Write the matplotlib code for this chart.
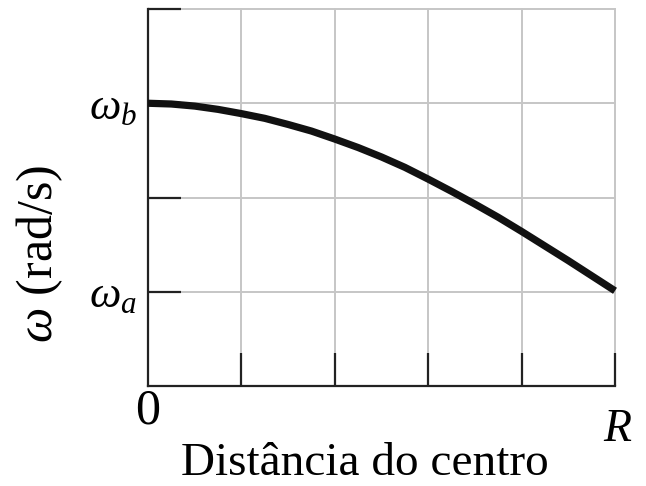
import matplotlib
matplotlib.use("Agg")
import matplotlib.pyplot as plt

plt.rcParams["font.family"] = ["Liberation Serif", "DejaVu Serif"]
plt.rcParams["mathtext.fontset"] = "custom"
plt.rcParams["mathtext.rm"] = "Liberation Serif"
plt.rcParams["mathtext.it"] = "Liberation Serif:italic"

# distance from centre in units of R/5, omega in grid units (omega_a = 1, omega_b = 3)
dist = [0, 0.25, 0.5, 0.75, 1, 1.25, 1.5, 1.75, 2, 2.25, 2.5,
        2.75, 3, 3.25, 3.5, 3.75, 4, 4.25, 4.5, 4.75, 5]
omega = [3.0, 2.992, 2.97, 2.935, 2.89, 2.84, 2.775, 2.705, 2.62, 2.53, 2.43,
         2.32, 2.195, 2.065, 1.93, 1.79, 1.64, 1.485, 1.33, 1.17, 1.01]

y_ticks = [1, 2, 3, 4]
y_labels = [r"$\omega_a$", "", r"$\omega_b$", ""]
x_ticks = [1, 2, 3, 4, 5]

fig = plt.figure(figsize=(6.46, 4.86), dpi=100)
ax = fig.add_axes([148 / 646, 1 - 386 / 486, 467 / 646, 377 / 486])

for v in [1, 2, 3, 4]:
    ax.axhline(v, color="#c6c6c6", lw=1.4, zorder=1, clip_on=False)
for v in [1, 2, 3, 4, 5]:
    ax.axvline(v, color="#c6c6c6", lw=1.4, zorder=1, clip_on=False)

ax.plot(dist, omega, color="#111111", lw=5.2, solid_capstyle="butt",
        solid_joinstyle="round", zorder=3, clip_on=False)

ax.set_xlim(0, 5)
ax.set_ylim(0, 4)
for s in ["top", "right"]:
    ax.spines[s].set_visible(False)
for s in ["left", "bottom"]:
    ax.spines[s].set_linewidth(1.6)
    ax.spines[s].set_color("#222222")

ax.set_yticks(y_ticks, labels=y_labels)
ax.set_xticks(x_ticks, labels=[""] * len(x_ticks))
ax.tick_params(axis="both", direction="in", length=24, width=1.6, color="#222222")
ax.tick_params(axis="y", pad=8, labelsize=32)

ax.text(0, -0.27, "0", ha="center", va="center", fontsize=36)
ax.text(5.02, -0.46, "R", ha="center", va="center", fontsize=33, style="italic")
fig.text(365 / 646, 1 - 464 / 486, "Distância do centro", ha="center", va="center", fontsize=34)
fig.text(40 / 646, 1 - 254 / 486, r"$\omega$ (rad/s)", ha="center", va="center",
         rotation=90, fontsize=36)

fig.savefig("out.png", dpi=100)
